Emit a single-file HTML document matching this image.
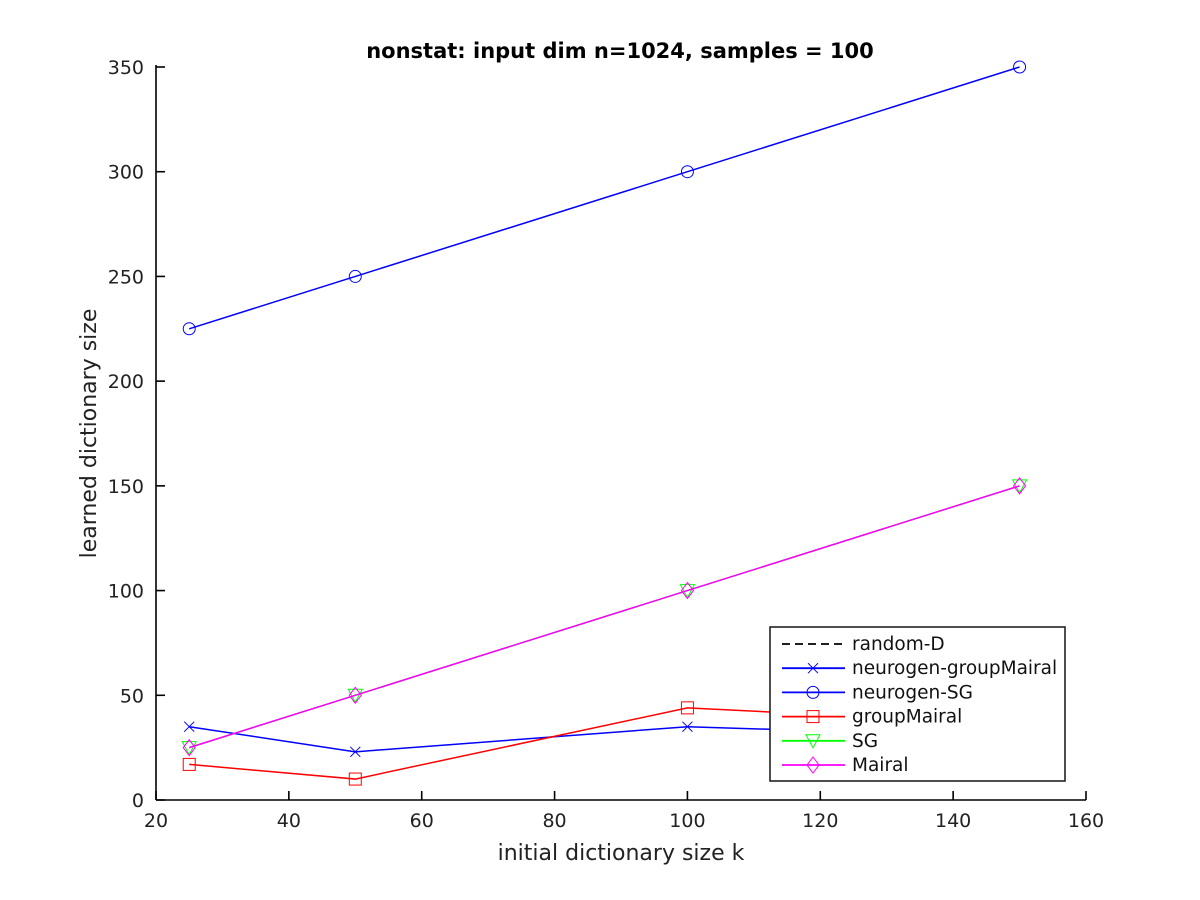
<!DOCTYPE html>
<html><head><meta charset="utf-8"><style>
body{margin:0;background:#fff;}
svg{display:block;font-family:"DejaVu Sans","Liberation Sans",sans-serif;}
</style></head><body>
<svg id="chart" width="1200" height="900" xmlns="http://www.w3.org/2000/svg">
<rect width="1200" height="900" fill="#fff"/>
<g id="plot"></g>
</svg>
<script>
const categories=[25,50,100,150];
const neurogenGroupMairal=[35,23,35,30];
const neurogenSG=[225,250,300,350];
const groupMairal=[17,10,44,36];
const sgVals=[25,50,100,150];
const mairalVals=[25,50,100,150];
const xTicks=[20,40,60,80,100,120,140,160];
const yTicks=[0,50,100,150,200,250,300,350];
const legendLabels=["random-D","neurogen-groupMairal","neurogen-SG","groupMairal","SG","Mairal"];

const L=156,R=1086,T=67,B=800;
const X=v=>L+(v-20)/(160-20)*(R-L);
const Y=v=>B-(v-0)/(350-0)*(B-T);
const NS="http://www.w3.org/2000/svg";
const g=document.getElementById('plot');
function mk(t,a,p){const e=document.createElementNS(NS,t);for(const k in a)e.setAttribute(k,a[k]);(p||g).appendChild(e);return e;}

const ax=mk('g',{});


mk('line',{x1:L,y1:B,x2:R,y2:B,stroke:'#000','stroke-width':1.6},ax);
mk('line',{x1:L,y1:B,x2:L,y2:T-2,stroke:'#000','stroke-width':1.6},ax);
xTicks.forEach(t=>{
  mk('line',{x1:X(t),y1:B,x2:X(t),y2:B-9,stroke:'#000','stroke-width':1.6},ax);
  const tx=mk('text',{x:X(t),y:B+27,'text-anchor':'middle','font-size':19,fill:'#222'},ax);
  tx.textContent=t;
  
  
});
yTicks.forEach(t=>{
  mk('line',{x1:L,y1:Y(t),x2:L+9,y2:Y(t),stroke:'#000','stroke-width':1.6},ax);
  const tx=mk('text',{x:L-12,y:Y(t)+7,'text-anchor':'end','font-size':19,fill:'#222'},ax);
  tx.textContent=t;
  
  
});
const xt=mk('text',{x:(L+R)/2,y:860,'text-anchor':'middle','font-size':22,fill:'#222'});
xt.textContent='initial dictionary size k';


const yt=mk('text',{x:96,y:(T+B)/2,'text-anchor':'middle','font-size':22,fill:'#222',transform:`rotate(-90 96 ${(T+B)/2})`});
yt.textContent='learned dictionary size';


const tt=mk('text',{x:620,y:58,'text-anchor':'middle','font-size':21,'font-weight':'bold',fill:'#000'});
tt.textContent='nonstat: input dim n=1024, samples = 100';



function marker(type,cx,cy,col,p){
  const s=6;
  if(type==='x'){mk('path',{d:`M${cx-s+1} ${cy-s+1}L${cx+s-1} ${cy+s-1}M${cx-s+1} ${cy+s-1}L${cx+s-1} ${cy-s+1}`,stroke:col,fill:'none'},p);}
  else if(type==='o'){mk('circle',{cx,cy,r:s,stroke:col,fill:'none'},p);}
  else if(type==='s'){mk('rect',{x:cx-s,y:cy-s,width:2*s,height:2*s,stroke:col,fill:'none'},p);}
  else if(type==='v'){mk('path',{d:`M${cx-7} ${cy-6}L${cx+7} ${cy-6}L${cx} ${cy+7}Z`,stroke:col,fill:'none'},p);}
  else if(type==='d'){mk('path',{d:`M${cx} ${cy-8}L${cx+6} ${cy}L${cx} ${cy+8}L${cx-6} ${cy}Z`,stroke:col,fill:'none'},p);}
}
const series=[
  {name:'neurogen-groupmairal',vals:neurogenGroupMairal,col:'#0000ff',m:'x'},
  {name:'neurogen-sg',vals:neurogenSG,col:'#0000ff',m:'o'},
  {name:'groupmairal',vals:groupMairal,col:'#ff0000',m:'s'},
  {name:'sg',vals:sgVals,col:'#00ff00',m:'v'},
  {name:'mairal',vals:mairalVals,col:'#ff00ff',m:'d'}
];
series.forEach(s=>{
  const sg=mk('g',{});
  
  
  mk('polyline',{points:categories.map((c,i)=>X(c)+','+Y(s.vals[i])).join(' '),fill:'none',stroke:s.col,'stroke-width':1.5},sg);
  categories.forEach((c,i)=>marker(s.m,X(c),Y(s.vals[i]),s.col,sg));
});

const lg=mk('g',{});


mk('rect',{x:770,y:627,width:295,height:154,fill:'#fff',stroke:'#222','stroke-width':1.6},lg);
const lcols=['#000','#0000ff','#0000ff','#ff0000','#00ff00','#ff00ff'];
const lms=[null,'x','o','s','v','d'];
legendLabels.forEach((lab,i)=>{
  const y=644+i*24.2;
  const e=mk('g',{},lg);
  
  
  mk('line',{x1:782,y1:y,x2:845,y2:y,stroke:lcols[i],'stroke-width':1.8,'stroke-dasharray':i===0?'8 5':'none'},e);
  if(lms[i])marker(lms[i],813,y,lcols[i],e);
  const t=mk('text',{x:852,y:y+6,'font-size':18.5,fill:'#111'},e);
  t.textContent=lab;
});
</script>
</body></html>
